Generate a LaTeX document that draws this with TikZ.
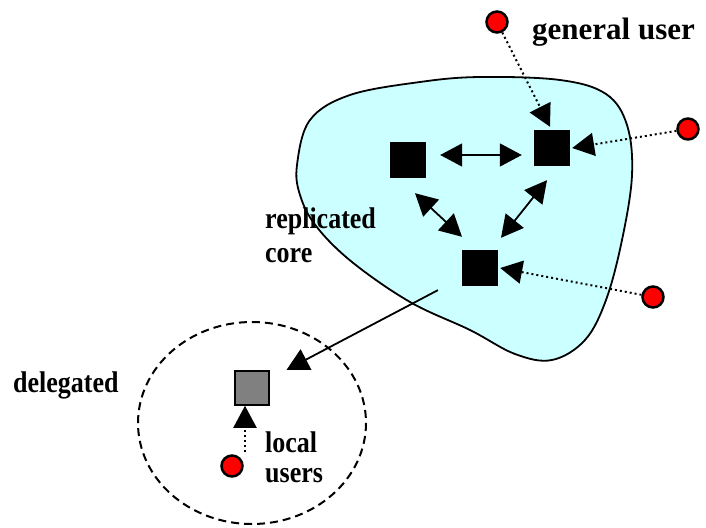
\documentclass[tikz,border=0pt]{standalone}
\usepackage{fontspec}
\setmainfont{Liberation Serif}
\usetikzlibrary{arrows.meta,calc}
\definecolor{corefill}{HTML}{CCFFFF}
\definecolor{userred}{HTML}{FF0000}
\definecolor{delegfill}{HTML}{808080}
\begin{document}
\begin{tikzpicture}[x=1pt,y=-1pt,
  server/.style={fill=black, minimum size=36pt, inner sep=0pt},
  delegate/.style={draw=black, line width=1.5pt, fill=delegfill, minimum size=34pt, inner sep=0pt},
  user/.style={circle, fill=userred, draw=black, line width=2.5pt, minimum size=21pt, inner sep=0pt},
  dblarr/.style={{Triangle[length=22pt,width=23pt]}-{Triangle[length=22pt,width=23pt]}, line width=1.8pt},
  solidarr/.style={-{Triangle[length=22pt,width=23pt]}, line width=1.8pt},
  dotarr/.style={-{Triangle[length=22pt,width=23pt]}, line width=2pt, dash pattern=on 2pt off 3pt},
  boldlab/.style={anchor=base west, inner sep=0pt, font=\fontsize{26}{26}\selectfont\bfseries},
  userlab/.style={anchor=base west, inner sep=0pt, font=\fontsize{31}{31}\selectfont\bfseries}
]
\useasboundingbox (0,0) rectangle (706,527);

% replicated core region
\path[fill=corefill, draw=black, line width=1.8pt]
  plot[smooth cycle, tension=0.6] coordinates {
    (297,165) (310,120) (350,95) (420,82) (480,77) (560,80) (606,94)
    (627,125) (632,175) (622,240) (606,300) (585,340) (552,360)
    (515,354) (470,330) (410,302) (352,262) (316,226) (300,195)};

% delegated region
\draw[line width=2pt, dash pattern=on 8pt off 5pt] (252,423) ellipse [x radius=114, y radius=101];

% servers
\node[server] (A) at (408,160) {};
\node[server] (B) at (552,148) {};
\node[server] (C) at (480,268) {};
\node[delegate] (D) at (252,388) {};

% users
\node[user] (uTop) at (497,22) {};
\node[user] (uRight) at (688,129) {};
\node[user] (uLow) at (653,297) {};
\node[user] (uLocal) at (232,466) {};

% core links
\draw[dblarr] ([yshift=5pt,xshift=14pt]A.east) -- ([yshift=-7pt,xshift=-12pt]B.west);
\draw[dblarr] ([xshift=7pt,yshift=-15pt]A.south) -- ([xshift=-18pt,yshift=13pt]C.north);
\draw[dblarr] ([xshift=-5pt,yshift=-14pt]B.south) -- ([xshift=21pt,yshift=12pt]C.north);

% user access
\draw[dotarr] (uTop) -- ([xshift=-2pt,yshift=3pt]B.north);
\draw[dotarr] (uRight) -- ([xshift=2pt]B.east);
\draw[dotarr] (uLow) -- ([xshift=2pt]C.east);
\coordinate (lstart) at (245,452);
\draw[dotarr] (lstart) -- (lstart |- D.south);

% delegation
\draw[solidarr, shorten <=27pt, shorten >=19pt] (C) -- (D);

% labels
\node[userlab] (tGeneral) at (532,40) {general user};
\node[boldlab] (tRep) at (265,228) {\scalebox{1}[1.15]{replicated}};
\node[boldlab] (tCore) at (265,262) {\scalebox{1}[1.15]{core}};
\node[boldlab] (tDeleg) at (13,392) {\scalebox{1}[1.15]{delegated}};
\node[boldlab] (tLocal) at (265,452) {\scalebox{1}[1.15]{local}};
\node[boldlab] (tUsers) at (265,482) {\scalebox{1}[1.15]{users}};
\end{tikzpicture}
\end{document}
